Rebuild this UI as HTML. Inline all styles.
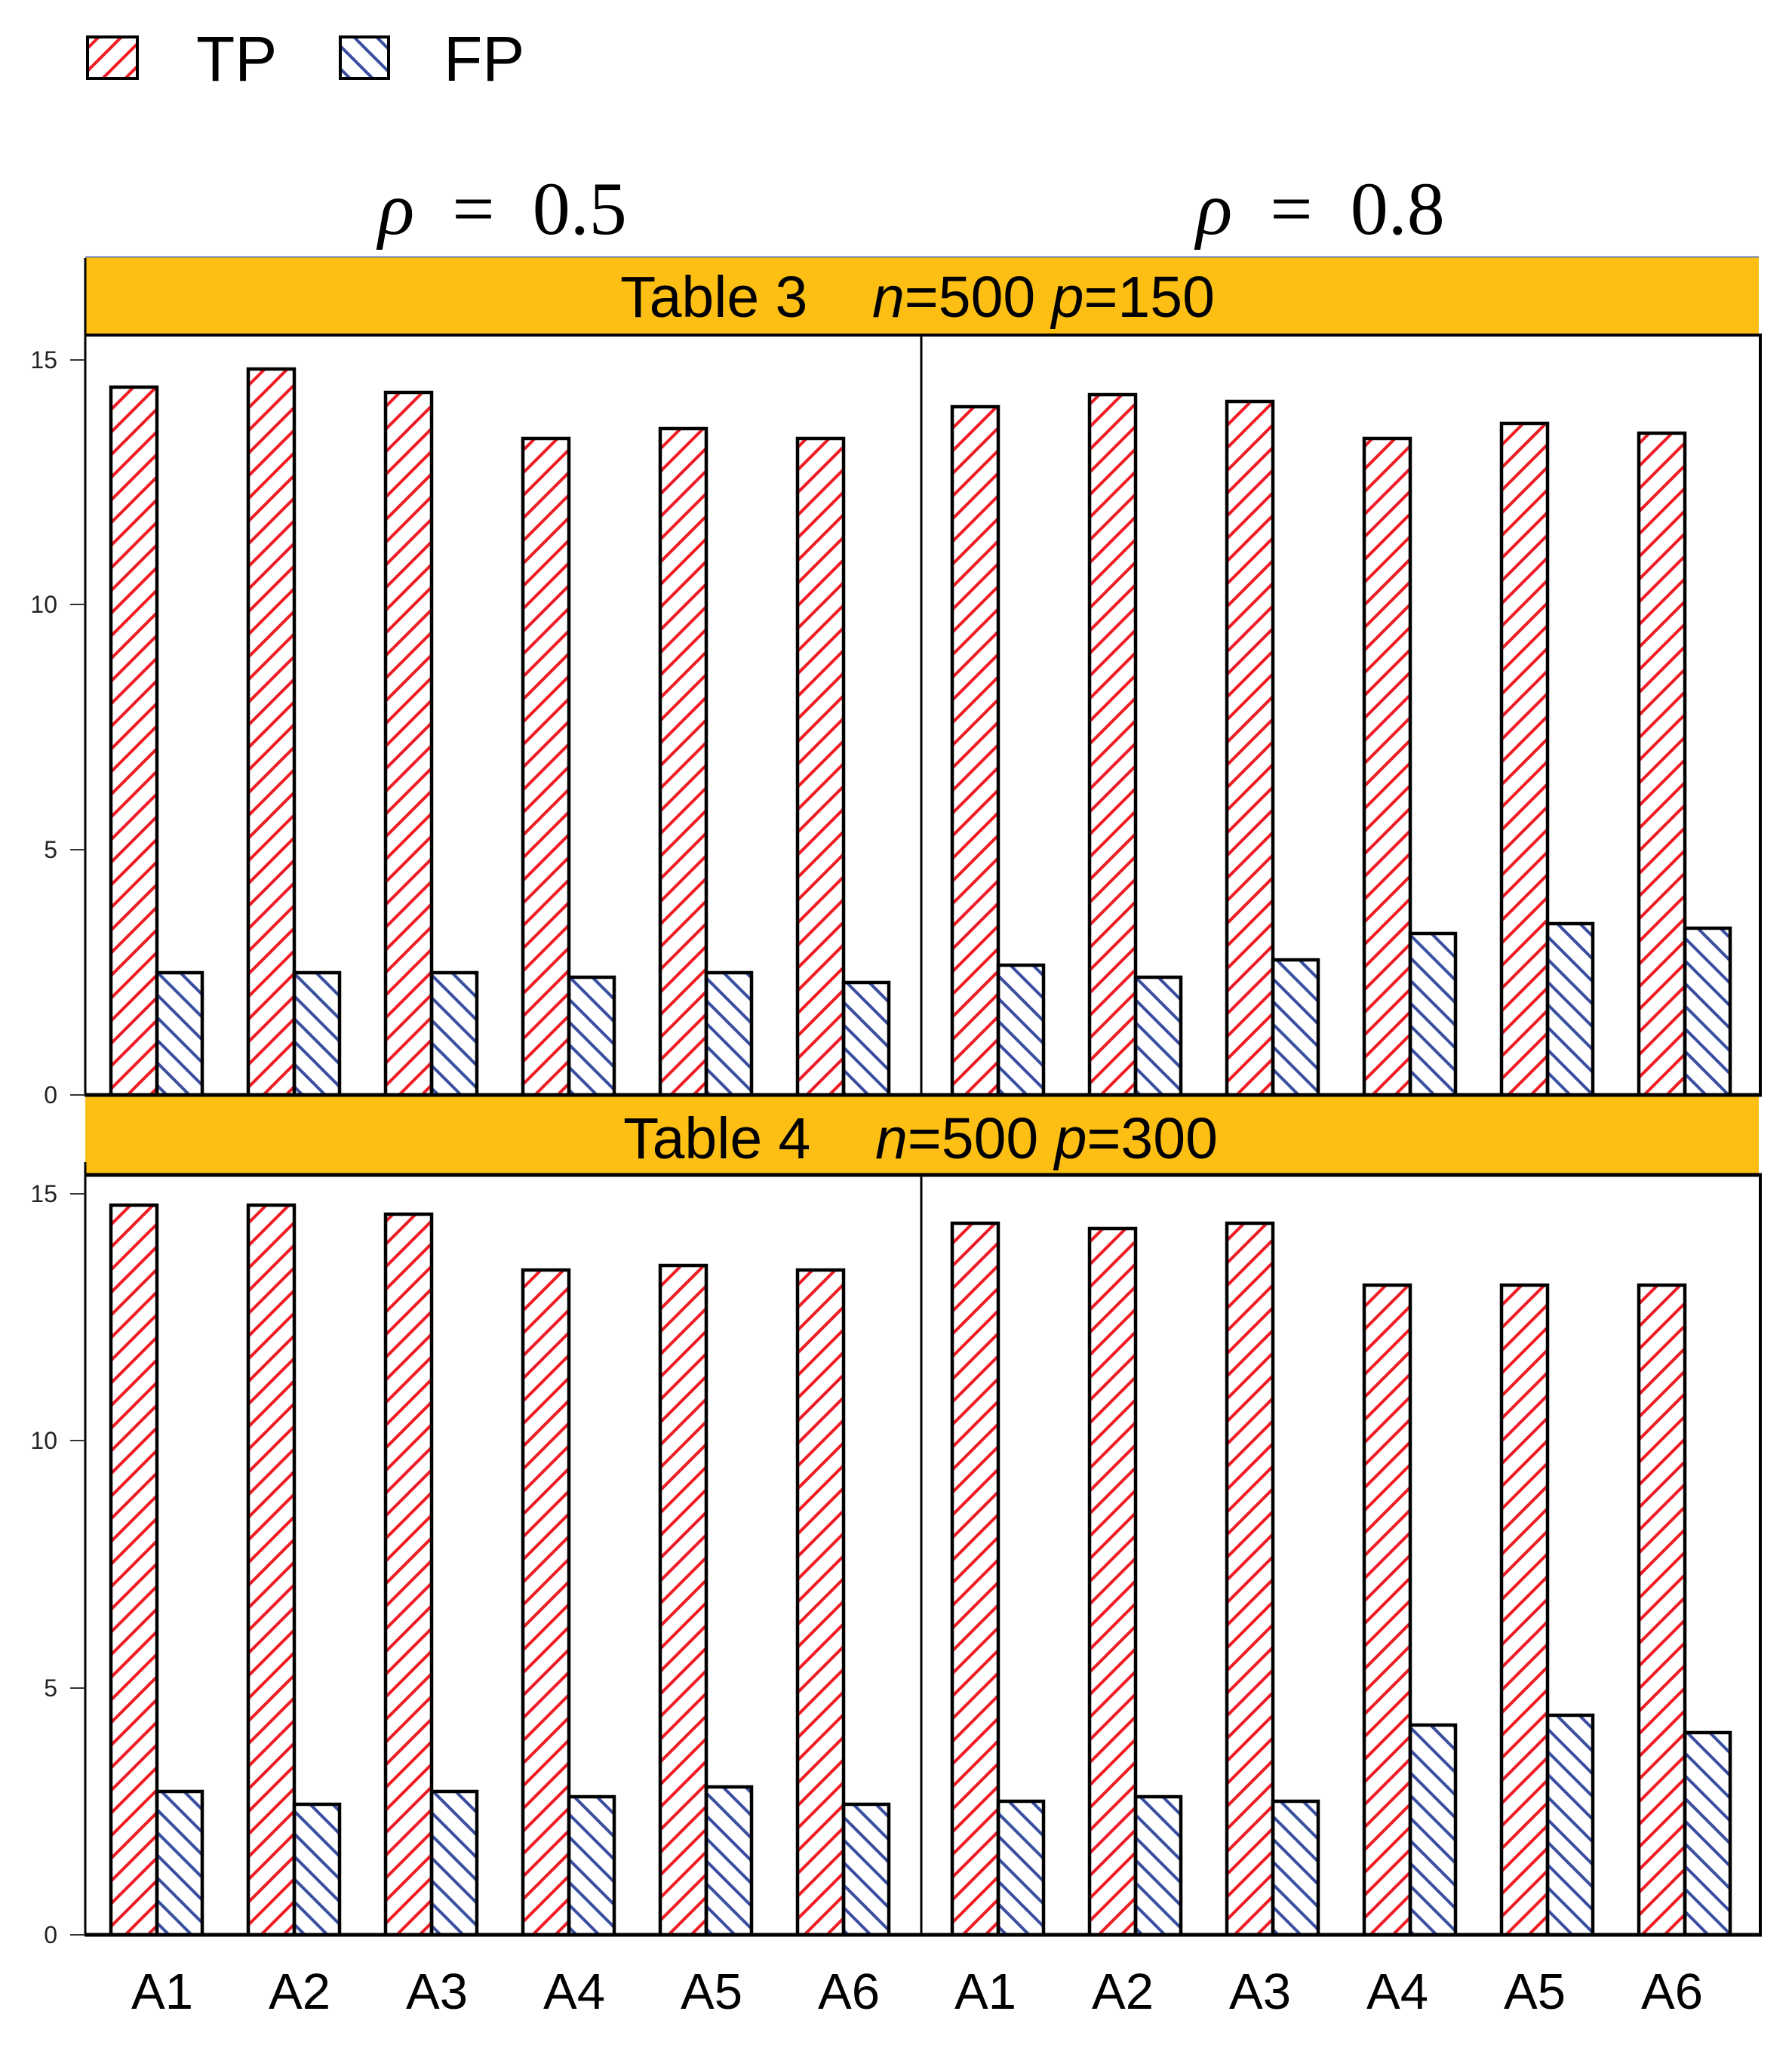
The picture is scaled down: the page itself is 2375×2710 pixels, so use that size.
<!DOCTYPE html>
<html><head><meta charset="utf-8"><style>html,body{margin:0;padding:0;background:#fff}svg{display:block}</style></head>
<body>
<svg width="2375" height="2710" viewBox="0 0 2375 2710" xmlns="http://www.w3.org/2000/svg">
<defs>
<pattern id="r" patternUnits="userSpaceOnUse" width="30" height="30">
<path d="M-5,5 L5,-5 M0,30 L30,0 M25,35 L35,25" stroke="#ee1c25" stroke-width="4"/>
</pattern>
<pattern id="b" patternUnits="userSpaceOnUse" width="30" height="30">
<path d="M-5,25 L5,35 M0,0 L30,30 M25,-5 L35,5" stroke="#3a4fa0" stroke-width="4"/>
</pattern>
</defs>
<g font-family="Liberation Sans, sans-serif">
<!-- legend -->
<rect x="116" y="49" width="66" height="55" fill="url(#r)" stroke="#000" stroke-width="4"/>
<text x="260" y="107" font-size="84">TP</text>
<rect x="451" y="49" width="64" height="55" fill="url(#b)" stroke="#000" stroke-width="4"/>
<text x="588" y="107" font-size="84">FP</text>
<!-- rho titles -->
<text x="666" y="310" font-size="100" font-family="Liberation Serif, serif" text-anchor="middle" style="white-space:pre"><tspan font-style="italic">ρ</tspan>  =  0.5</text>
<text x="1750" y="310" font-size="100" font-family="Liberation Serif, serif" text-anchor="middle" style="white-space:pre"><tspan font-style="italic">ρ</tspan>  =  0.8</text>

<!-- top band -->
<rect x="113" y="340" width="2218" height="104" fill="#fdbf13"/>
<line x1="113" y1="340.5" x2="2331" y2="340.5" stroke="#3a5fb0" stroke-width="1.5"/>
<text x="1216" y="420" font-size="77" text-anchor="middle" style="white-space:pre">Table 3    <tspan font-style="italic">n</tspan>=500 <tspan font-style="italic">p</tspan>=150</text>
<!-- bottom band -->
<rect x="113" y="1451" width="2218" height="106" fill="#fdbf13"/>
<text x="1220" y="1535" font-size="77" text-anchor="middle" style="white-space:pre">Table 4    <tspan font-style="italic">n</tspan>=500 <tspan font-style="italic">p</tspan>=300</text>

<!-- bars top -->
<g stroke="#000" stroke-width="4.5">
<rect x="147" y="513" width="61" height="938" fill="url(#r)"/>
<rect x="208" y="1289" width="60" height="162" fill="url(#b)"/>
<rect x="329" y="489" width="61" height="962" fill="url(#r)"/>
<rect x="390" y="1289" width="60" height="162" fill="url(#b)"/>
<rect x="511" y="520" width="61" height="931" fill="url(#r)"/>
<rect x="572" y="1289" width="60" height="162" fill="url(#b)"/>
<rect x="693" y="581" width="61" height="870" fill="url(#r)"/>
<rect x="754" y="1295" width="60" height="156" fill="url(#b)"/>
<rect x="875" y="568" width="61" height="883" fill="url(#r)"/>
<rect x="936" y="1289" width="60" height="162" fill="url(#b)"/>
<rect x="1057" y="581" width="61" height="870" fill="url(#r)"/>
<rect x="1118" y="1302" width="60" height="149" fill="url(#b)"/>

<rect x="1262" y="539" width="61" height="912" fill="url(#r)"/>
<rect x="1323" y="1279" width="60" height="172" fill="url(#b)"/>
<rect x="1444" y="523" width="61" height="928" fill="url(#r)"/>
<rect x="1505" y="1295" width="60" height="156" fill="url(#b)"/>
<rect x="1626" y="532" width="61" height="919" fill="url(#r)"/>
<rect x="1687" y="1272" width="60" height="179" fill="url(#b)"/>
<rect x="1808" y="581" width="61" height="870" fill="url(#r)"/>
<rect x="1869" y="1237" width="60" height="214" fill="url(#b)"/>
<rect x="1990" y="561" width="61" height="890" fill="url(#r)"/>
<rect x="2051" y="1224" width="60" height="227" fill="url(#b)"/>
<rect x="2172" y="574" width="61" height="877" fill="url(#r)"/>
<rect x="2233" y="1230" width="60" height="221" fill="url(#b)"/>

<!-- bars bottom -->
<rect x="147" y="1597" width="61" height="967" fill="url(#r)"/>
<rect x="208" y="2374" width="60" height="190" fill="url(#b)"/>
<rect x="329" y="1597" width="61" height="967" fill="url(#r)"/>
<rect x="390" y="2391" width="60" height="173" fill="url(#b)"/>
<rect x="511" y="1609" width="61" height="955" fill="url(#r)"/>
<rect x="572" y="2374" width="60" height="190" fill="url(#b)"/>
<rect x="693" y="1683" width="61" height="881" fill="url(#r)"/>
<rect x="754" y="2381" width="60" height="183" fill="url(#b)"/>
<rect x="875" y="1677" width="61" height="887" fill="url(#r)"/>
<rect x="936" y="2368" width="60" height="196" fill="url(#b)"/>
<rect x="1057" y="1683" width="61" height="881" fill="url(#r)"/>
<rect x="1118" y="2391" width="60" height="173" fill="url(#b)"/>

<rect x="1262" y="1621" width="61" height="943" fill="url(#r)"/>
<rect x="1323" y="2387" width="60" height="177" fill="url(#b)"/>
<rect x="1444" y="1628" width="61" height="936" fill="url(#r)"/>
<rect x="1505" y="2381" width="60" height="183" fill="url(#b)"/>
<rect x="1626" y="1621" width="61" height="943" fill="url(#r)"/>
<rect x="1687" y="2387" width="60" height="177" fill="url(#b)"/>
<rect x="1808" y="1703" width="61" height="861" fill="url(#r)"/>
<rect x="1869" y="2286" width="60" height="278" fill="url(#b)"/>
<rect x="1990" y="1703" width="61" height="861" fill="url(#r)"/>
<rect x="2051" y="2273" width="60" height="291" fill="url(#b)"/>
<rect x="2172" y="1703" width="61" height="861" fill="url(#r)"/>
<rect x="2233" y="2296" width="60" height="268" fill="url(#b)"/>
</g>

<!-- frames -->
<g stroke="#000" fill="none">
<line x1="113" y1="342" x2="113" y2="1453" stroke-width="3"/>
<line x1="113" y1="444" x2="2335" y2="444" stroke-width="4"/>
<line x1="1221" y1="444" x2="1221" y2="1451" stroke-width="3"/>
<line x1="2333" y1="444" x2="2333" y2="1453" stroke-width="4"/>
<line x1="113" y1="1451" x2="2335" y2="1451" stroke-width="5"/>

<line x1="113" y1="1540" x2="113" y2="2566" stroke-width="3"/>
<line x1="113" y1="1557" x2="2335" y2="1557" stroke-width="5"/>
<line x1="1221" y1="1557" x2="1221" y2="2564" stroke-width="3"/>
<line x1="2333" y1="1557" x2="2333" y2="2566" stroke-width="4"/>
<line x1="113" y1="2564" x2="2335" y2="2564" stroke-width="5"/>

<g stroke-width="2" stroke="#333">
<line x1="93" y1="477" x2="113" y2="477"/>
<line x1="93" y1="801" x2="113" y2="801"/>
<line x1="93" y1="1126" x2="113" y2="1126"/>
<line x1="93" y1="1451" x2="113" y2="1451"/>
<line x1="93" y1="1582" x2="113" y2="1582"/>
<line x1="93" y1="1909" x2="113" y2="1909"/>
<line x1="93" y1="2237" x2="113" y2="2237"/>
<line x1="93" y1="2564" x2="113" y2="2564"/>
</g>
</g>
<g font-size="32" text-anchor="end" fill="#222">
<text x="76" y="488">15</text>
<text x="76" y="812">10</text>
<text x="76" y="1137">5</text>
<text x="76" y="1462">0</text>
<text x="76" y="1593">15</text>
<text x="76" y="1920">10</text>
<text x="76" y="2248">5</text>
<text x="76" y="2575">0</text>
</g>
<g font-size="67" text-anchor="middle">
<text x="215" y="2662">A1</text>
<text x="397" y="2662">A2</text>
<text x="579" y="2662">A3</text>
<text x="761" y="2662">A4</text>
<text x="943" y="2662">A5</text>
<text x="1125" y="2662">A6</text>
<text x="1306" y="2662">A1</text>
<text x="1488" y="2662">A2</text>
<text x="1670" y="2662">A3</text>
<text x="1852" y="2662">A4</text>
<text x="2034" y="2662">A5</text>
<text x="2216" y="2662">A6</text>
</g>
</g>
</svg>
</body></html>
